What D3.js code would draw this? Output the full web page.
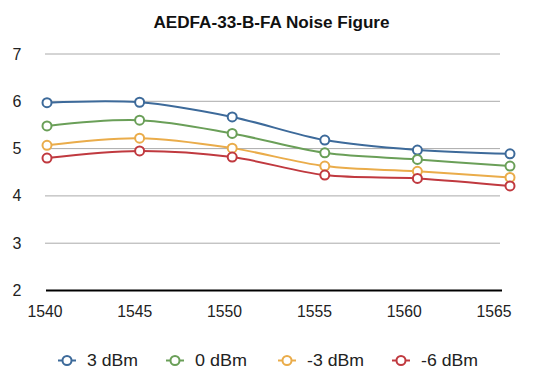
<!DOCTYPE html>
<html><head><meta charset="utf-8">
<script src="https://cdn.jsdelivr.net/npm/d3@7"></script>
<style>body{margin:0;background:#fff}svg{display:block}</style>
</head><body>
<svg id="c" width="534" height="376"></svg>
<script>
const wavelengths = [1540, 1545, 1550, 1555, 1560, 1565];
const seriesNames = ["3 dBm", "0 dBm", "-3 dBm", "-6 dBm"];
const s3dBm  = [5.97, 5.98, 5.67, 5.18, 4.97, 4.89];
const s0dBm  = [5.48, 5.60, 5.32, 4.91, 4.77, 4.63];
const sm3dBm = [5.07, 5.22, 5.01, 4.63, 4.52, 4.39];
const sm6dBm = [4.80, 4.95, 4.82, 4.44, 4.37, 4.21];
const yTicks = [2, 3, 4, 5, 6, 7];
const colors = ["#3d6a9a", "#6a9f58", "#eaac4a", "#c0393f"];
const seriesValues = [s3dBm, s0dBm, sm3dBm, sm6dBm];

const svg = d3.select("#c");
const font = "'Liberation Sans', Arial, sans-serif";

const x = d3.scaleLinear().domain([1540, 1565]).range([47, 510]);
const xLab = d3.scaleLinear().domain([1540, 1565]).range([45, 494]);
const y = d3.scaleLinear().domain([2, 7]).range([290.5, 54]);

svg.append("text").attr("x", 271.5).attr("y", 28).attr("text-anchor", "middle")
  .attr("font-family", font).attr("font-weight", "bold").attr("font-size", 16)
  .attr("textLength", 236).attr("lengthAdjust", "spacingAndGlyphs")
  .attr("fill", "#111").text("AEDFA-33-B-FA Noise Figure");

// gridlines
svg.append("g").selectAll("line").data(yTicks.filter(d => d > 2)).join("line")
  .attr("x1", 45).attr("x2", 500).attr("y1", d => y(d)).attr("y2", d => y(d))
  .attr("stroke", "#aaa").attr("stroke-width", 1);
// baseline
svg.append("line").attr("x1", 46).attr("x2", 502).attr("y1", y(2)).attr("y2", y(2))
  .attr("stroke", "#000").attr("stroke-width", 2);

// y labels
svg.append("g").selectAll("text").data(yTicks).join("text")
  .attr("x", 17).attr("y", d => y(d) + 5.5).attr("text-anchor", "middle")
  .attr("font-family", font).attr("font-size", 16).attr("fill", "#222").text(d => d);

// x labels
svg.append("g").selectAll("text").data(wavelengths).join("text")
  .attr("x", d => xLab(d)).attr("y", 317).attr("text-anchor", "middle")
  .attr("font-family", font).attr("font-size", 16)
  .attr("textLength", 35).attr("lengthAdjust", "spacingAndGlyphs")
  .attr("fill", "#222").text(d => d);

const line = d3.line().x((d, i) => x(wavelengths[i])).y(d => y(d)).curve(d3.curveCatmullRom.alpha(0.5));

seriesValues.forEach((vals, k) => {
  const g = svg.append("g");
  g.append("path").attr("d", line(vals)).attr("fill", "none")
    .attr("stroke", colors[k]).attr("stroke-width", 2);
  g.selectAll("circle").data(vals).join("circle")
    .attr("cx", (d, i) => x(wavelengths[i])).attr("cy", d => y(d)).attr("r", 4.5)
    .attr("fill", "#fff").attr("stroke", colors[k]).attr("stroke-width", 2);
});

// legend
const legX = [67, 175, 287, 401];
const legW = [51, 52, 57, 57];
const legY = 360.5;
const lg = svg.append("g");
seriesNames.forEach((n, k) => {
  lg.append("line").attr("x1", legX[k] - 9).attr("x2", legX[k] + 9).attr("y1", legY).attr("y2", legY)
    .attr("stroke", colors[k]).attr("stroke-width", 2);
  lg.append("circle").attr("cx", legX[k]).attr("cy", legY).attr("r", 4.5)
    .attr("fill", "#fff").attr("stroke", colors[k]).attr("stroke-width", 2);
  lg.append("text").attr("x", legX[k] + 20).attr("y", legY + 5.5)
    .attr("font-family", font).attr("font-size", 16.5)
    .attr("textLength", legW[k]).attr("lengthAdjust", "spacingAndGlyphs")
    .attr("fill", "#222").text(n);
});
</script>
</body></html>
